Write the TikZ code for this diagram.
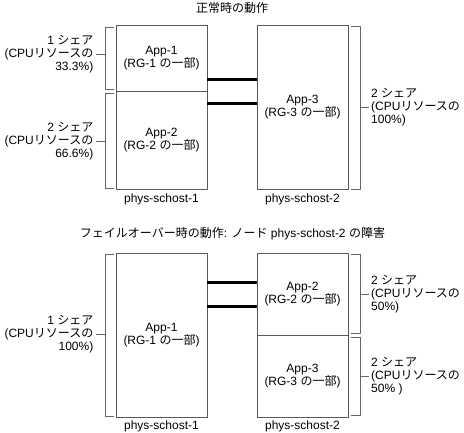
\documentclass[tikz,border=0pt]{standalone}
\usepackage{fontspec}
\setmainfont{Liberation Sans}
\newfontfamily\jp[Scale=1.0]{Noto Sans CJK JP}
\newcommand\fsz{\fontsize{12}{13}\selectfont}
\tikzset{
  box/.style={draw=black!65, line width=0.9pt, inner sep=0pt, align=center, font=\fsz},
  bridge/.style={line width=3pt, black},
  brk/.style={draw=black!60, line width=0.9pt},
  lbl/.style={font=\fsz, inner sep=0pt},
  lside/.style={lbl, anchor=east, align=right},
  rside/.style={lbl, anchor=west, align=left},
}
\begin{document}
\begin{tikzpicture}[x=1pt,y=-1pt]
\useasboundingbox[fill=white] (0,0) rectangle (464,432);

% ---------- top: normal operation ----------
\node[lbl] (t0) at (232,8) {{\jp 正常時の動作}};

\node[box, minimum width=91, minimum height=66] (tA) at (161.5,58) {App-1\\(RG-1 {\jp の一部})};
\node[box, minimum width=91, minimum height=98] (tB) at (161.5,140) {App-2\\(RG-2 {\jp の一部})};
\node[box, minimum width=91, minimum height=164] (tC) at (302.5,107) {App-3\\(RG-3 {\jp の一部})};

\draw[bridge] (tA.east |- 0,79) -- (tC.west |- 0,79);
\draw[bridge] (tB.east |- 0,103) -- (tC.west |- 0,103);

\node[lbl] (tH1) at (161.5,199) {phys-schost-1};
\node[lbl] (tH2) at (302.5,199) {phys-schost-2};

% left brackets
\draw[brk] (114,27) -| (105,89) -- (114,89);
\coordinate (tk1) at (96,54);
\draw[brk] (105,54) -- (tk1);
\node[lside] (tL1) at (93.5,54) {1 {\jp シェア}\\(CPU{\jp リソースの}\\33.3\%)};

\draw[brk] (114,93) -| (105,188) -- (114,188);
\coordinate (tk2) at (96,141);
\draw[brk] (105,141) -- (tk2);
\node[lside] (tL2) at (93.5,141) {2 {\jp シェア}\\(CPU{\jp リソースの}\\66.6\%)};

% right bracket
\draw[brk] (351,26) -| (360,189) -- (351,189);
\coordinate (tk3) at (369,107);
\draw[brk] (360,107) -- (tk3);
\node[rside] (tR1) at (371,107) {2 {\jp シェア}\\(CPU{\jp リソースの}\\100\%)};

% ---------- bottom: failover ----------
\node[lbl] (b0) at (232.5,234) {{\jp フェイルオーバー時の動作}: {\jp ノード} phys-schost-2 {\jp の障害}};

\node[box, minimum width=91, minimum height=164] (bA) at (161.5,335) {App-1\\(RG-1 {\jp の一部})};
\node[box, minimum width=91, minimum height=82] (bB) at (302.5,294) {App-2\\(RG-2 {\jp の一部})};
\node[box, minimum width=91, minimum height=82] (bC) at (302.5,376) {App-3\\(RG-3 {\jp の一部})};

\draw[bridge] (bA.east |- 0,282) -- (bB.west |- 0,282);
\draw[bridge] (bA.east |- 0,306) -- (bB.west |- 0,306);

\node[lbl] (bH1) at (161.5,426) {phys-schost-1};
\node[lbl] (bH2) at (302.5,426) {phys-schost-2};

% left bracket
\draw[brk] (114,254) -| (105,416) -- (114,416);
\coordinate (bk1) at (96,334);
\draw[brk] (105,334) -- (bk1);
\node[lside] (bL1) at (93.5,334) {1 {\jp シェア}\\(CPU{\jp リソースの}\\100\%)};

% right brackets
\draw[brk] (351,254) -| (360,333) -- (351,333);
\coordinate (bk2) at (369,294);
\draw[brk] (360,294) -- (bk2);
\node[rside] (bR1) at (371,294) {2 {\jp シェア}\\(CPU{\jp リソースの}\\50\%)};

\draw[brk] (351,337) -| (360,415) -- (351,415);
\coordinate (bk3) at (369,376);
\draw[brk] (360,376) -- (bk3);
\node[rside] (bR2) at (371,376) {2 {\jp シェア}\\(CPU{\jp リソースの}\\50\% )};
\end{tikzpicture}
\end{document}
